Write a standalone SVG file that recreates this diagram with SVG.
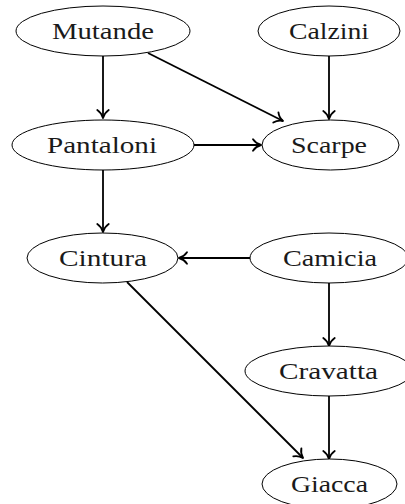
<svg xmlns="http://www.w3.org/2000/svg" width="405" height="504" viewBox="0 0 405 504">
  <style>
    .node ellipse { fill: #ffffff; stroke: #000000; stroke-width: 1; }
    .node text { font-family: "Liberation Serif", "DejaVu Serif", serif; font-size: 24px; fill: #1a1a1a; text-anchor: middle; }
    .edge { stroke: #000000; stroke-width: 1.8; fill: none; marker-end: url(#to); }
  </style>
  <defs>
    <marker id="to" markerUnits="userSpaceOnUse" markerWidth="16" markerHeight="16" viewBox="-9 -7 11 14" refX="0" refY="0" orient="auto">
      <path d="M -7,-5 C -5,-2 -1.6,-0.45 0,0 C -1.6,0.45 -5,2 -7,5" fill="none" stroke="#000000" stroke-width="1.6" stroke-linecap="round" stroke-linejoin="round"/>
    </marker>
  </defs>

  <!-- connectors -->
  <g id="edges">
    <line class="edge" x1="103" y1="56" x2="103" y2="118"/>
    <line class="edge" x1="148" y1="53" x2="283" y2="121"/>
    <line class="edge" x1="329" y1="56" x2="329" y2="119"/>
    <line class="edge" x1="194" y1="145" x2="261" y2="145"/>
    <line class="edge" x1="103" y1="170" x2="103" y2="232"/>
    <line class="edge" x1="250" y1="258" x2="179" y2="258"/>
    <line class="edge" x1="127" y1="282" x2="303" y2="458"/>
    <line class="edge" x1="329" y1="283" x2="329" y2="346"/>
    <line class="edge" x1="329" y1="396" x2="329" y2="459"/>
  </g>

  <!-- nodes -->
  <g id="mutande" class="node">
    <ellipse cx="103" cy="31" rx="87" ry="25"/>
    <text x="103" y="39" textLength="102" lengthAdjust="spacingAndGlyphs">Mutande</text>
  </g>
  <g id="calzini" class="node">
    <ellipse cx="329" cy="31" rx="71" ry="25"/>
    <text x="329" y="39" textLength="80" lengthAdjust="spacingAndGlyphs">Calzini</text>
  </g>
  <g id="pantaloni" class="node">
    <ellipse cx="103" cy="145" rx="91" ry="25"/>
    <text x="102" y="153" textLength="110" lengthAdjust="spacingAndGlyphs">Pantaloni</text>
  </g>
  <g id="scarpe" class="node">
    <ellipse cx="330.5" cy="145" rx="68.5" ry="25"/>
    <text x="329" y="153" textLength="76" lengthAdjust="spacingAndGlyphs">Scarpe</text>
  </g>
  <g id="cintura" class="node">
    <ellipse cx="102.5" cy="258" rx="75.5" ry="25"/>
    <text x="103" y="266" textLength="88" lengthAdjust="spacingAndGlyphs">Cintura</text>
  </g>
  <g id="camicia" class="node">
    <ellipse cx="329" cy="258" rx="79" ry="25"/>
    <text x="330" y="266" textLength="94" lengthAdjust="spacingAndGlyphs">Camicia</text>
  </g>
  <g id="cravatta" class="node">
    <ellipse cx="329" cy="371" rx="84" ry="25"/>
    <text x="328.5" y="379" textLength="99" lengthAdjust="spacingAndGlyphs">Cravatta</text>
  </g>
  <g id="giacca" class="node">
    <ellipse cx="329.5" cy="484" rx="67.5" ry="25"/>
    <text x="329.5" y="492" textLength="77" lengthAdjust="spacingAndGlyphs">Giacca</text>
  </g>
</svg>
